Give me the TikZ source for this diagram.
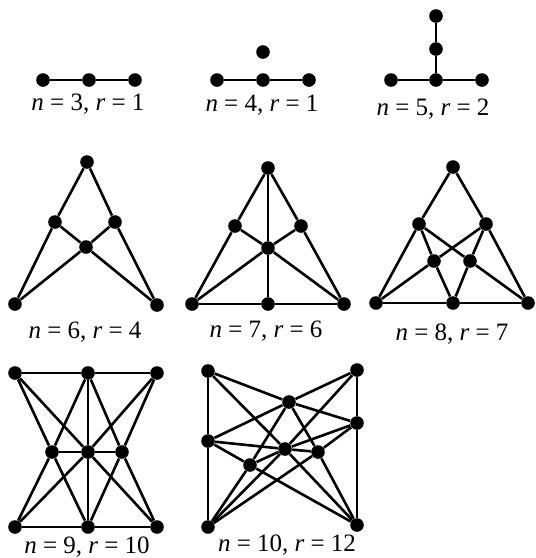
\documentclass[tikz,border=0pt]{standalone}
\usepackage{fontspec}
\setmainfont{Liberation Serif}
\usetikzlibrary{positioning}
\tikzset{
  pnt/.style={circle, fill=black, inner sep=0pt, minimum size=6.8pt},
  lab/.style={anchor=base, font=\fontsize{12.5}{14}\selectfont},
  ln/.style={line width=1.3pt}
}
\newcommand{\nr}[2]{\textit{n} = #1, \textit{r} = #2}

\begin{document}
\begin{tikzpicture}[x=0.5pt, y=-0.5pt]
  \useasboundingbox (0,0) rectangle (536,558);
  % n = 3
  \node[pnt] (a1) at (43,80) {};
  \node[pnt] (a2) at (89,80) {};
  \node[pnt] (a3) at (135,80) {};
  \draw[ln] (a1) -- (a2) -- (a3);
  \node[lab] (la) at (88,110) {\nr{3}{1}};
  % n = 4
  \node[pnt] (b1) at (217,80) {};
  \node[pnt] (b2) at (263,80) {};
  \node[pnt] (b3) at (309,80) {};
  \node[pnt] (b4) at (263,52) {};
  \draw[ln] (b1) -- (b2) -- (b3);
  \node[lab] (lb) at (262,111) {\nr{4}{1}};
  % n = 5
  \node[pnt] (c1) at (391,80) {};
  \node[pnt] (c2) at (436,80) {};
  \node[pnt] (c3) at (482,80) {};
  \node[pnt] (c4) at (436,49) {};
  \node[pnt] (c5) at (436,16) {};
  \draw[ln] (c1) -- (c2) -- (c3);
  \draw[ln] (c2) -- (c4) -- (c5);
  \node[lab] (lc) at (433,115) {\nr{5}{2}};
  % n = 6
  \node[pnt] (d1) at (87,162) {};
  \node[pnt] (d2) at (55,222) {};
  \node[pnt] (d3) at (115,222) {};
  \node[pnt] (d4) at (86,247) {};
  \node[pnt] (d5) at (15,304) {};
  \node[pnt] (d6) at (157,305) {};
  \draw[ln] (d1) -- (d2) -- (d5);
  \draw[ln] (d1) -- (d3) -- (d6);
  \draw[ln] (d2) -- (d4) -- (d6);
  \draw[ln] (d3) -- (d4) -- (d5);
  \node[lab] (ld) at (85,338) {\nr{6}{4}};
  % n = 7
  \node[pnt] (e1) at (268,168) {};
  \node[pnt] (e2) at (235,226) {};
  \node[pnt] (e3) at (301,226) {};
  \node[pnt] (e4) at (268,248) {};
  \node[pnt] (e5) at (192,304) {};
  \node[pnt] (e6) at (268,304) {};
  \node[pnt] (e7) at (344,304) {};
  \draw[ln] (e1) -- (e2) -- (e5);
  \draw[ln] (e1) -- (e3) -- (e7);
  \draw[ln] (e5) -- (e6) -- (e7);
  \draw[ln] (e1) -- (e4) -- (e6);
  \draw[ln] (e2) -- (e4) -- (e7);
  \draw[ln] (e3) -- (e4) -- (e5);
  \node[lab] (le) at (266,337) {\nr{7}{6}};
  % n = 8
  \node[pnt] (f1) at (453,167) {};
  \node[pnt] (f2) at (419,224) {};
  \node[pnt] (f3) at (486,224) {};
  \node[pnt] (f4) at (434,261) {};
  \node[pnt] (f5) at (470,261) {};
  \node[pnt] (f6) at (376,303) {};
  \node[pnt] (f7) at (453,303) {};
  \node[pnt] (f8) at (528,303) {};
  \draw[ln] (f1) -- (f2) -- (f6);
  \draw[ln] (f1) -- (f3) -- (f8);
  \draw[ln] (f6) -- (f7) -- (f8);
  \draw[ln] (f2) -- (f4) -- (f7);
  \draw[ln] (f3) -- (f5) -- (f7);
  \draw[ln] (f2) -- (f5) -- (f8);
  \draw[ln] (f3) -- (f4) -- (f6);
  \node[lab] (lf) at (452,340) {\nr{8}{7}};
  % n = 9
  \node[pnt] (g1) at (15,373) {};
  \node[pnt] (g2) at (88,373) {};
  \node[pnt] (g3) at (157,373) {};
  \node[pnt] (g4) at (52,452) {};
  \node[pnt] (g5) at (88,452) {};
  \node[pnt] (g6) at (122,452) {};
  \node[pnt] (g7) at (15,527) {};
  \node[pnt] (g8) at (88,527) {};
  \node[pnt] (g9) at (157,527) {};
  \draw[ln] (g1) -- (g2) -- (g3);
  \draw[ln] (g7) -- (g8) -- (g9);
  \draw[ln] (g4) -- (g5) -- (g6);
  \draw[ln] (g2) -- (g5) -- (g8);
  \draw[ln] (g1) -- (g5) -- (g9);
  \draw[ln] (g3) -- (g5) -- (g7);
  \draw[ln] (g1) -- (g4) -- (g8);
  \draw[ln] (g3) -- (g6) -- (g8);
  \draw[ln] (g7) -- (g4) -- (g2);
  \draw[ln] (g9) -- (g6) -- (g2);
  \node[lab] (lg) at (87,553) {\nr{9}{10}};
  % n = 10
  \node[pnt] (h1) at (208,371) {};
  \node[pnt] (h2) at (357,370) {};
  \node[pnt] (h3) at (289,402) {};
  \node[pnt] (h4) at (357,423) {};
  \node[pnt] (h5) at (208,441) {};
  \node[pnt] (h6) at (285,449) {};
  \node[pnt] (h7) at (318,452) {};
  \node[pnt] (h8) at (250,465) {};
  \node[pnt] (h9) at (208,527) {};
  \node[pnt] (h10) at (357,525) {};
  \draw[ln] (h1) -- (h5) -- (h9);
  \draw[ln] (h2) -- (h4) -- (h10);
  \draw[ln] (h1) -- (h3) -- (h4);
  \draw[ln] (h2) -- (h3) -- (h5);
  \draw[ln] (h1) -- (h6) -- (h10);
  \draw[ln] (h5) -- (h6) -- (h7);
  \draw[ln] (h5) -- (h8) -- (h10);
  \draw[ln] (h3) -- (h8) -- (h9);
  \draw[ln] (h3) -- (h7) -- (h10);
  \draw[ln] (h4) -- (h6) -- (h8);
  \draw[ln] (h2) -- (h6) -- (h9);
  \draw[ln] (h9) -- (h7) -- (h4);
  \node[lab] (lh) at (287,551) {\nr{10}{12}};
\end{tikzpicture}
\end{document}
